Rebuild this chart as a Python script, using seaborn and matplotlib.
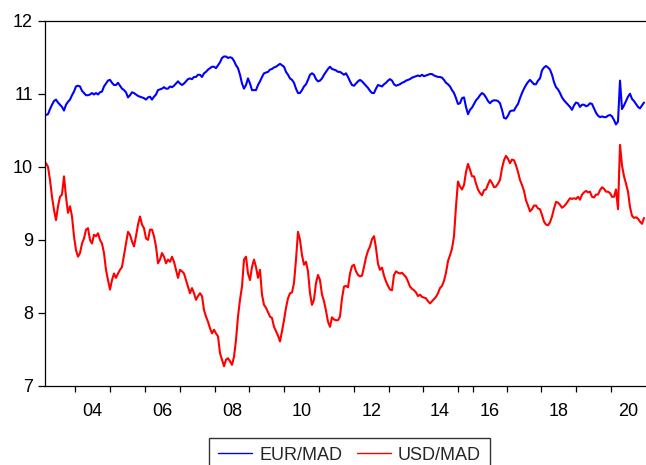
import numpy as np
import pandas as pd
import matplotlib
matplotlib.use("Agg")
import matplotlib.pyplot as plt
from matplotlib.lines import Line2D
import seaborn as sns

# Exchange rates of the Moroccan dirham, sampled at regular steps of the
# observation index (about three trading weeks per step).
eur_mad = [
    10.71, 10.72, 10.79, 10.85, 10.90, 10.92, 10.88, 10.85, 10.82, 10.77,
    10.85, 10.89, 10.92, 10.98, 11.03, 11.10, 11.11, 11.10, 11.04, 11.01,
    10.98, 10.98, 10.99, 11.01, 10.99, 11.01, 10.99, 11.02, 11.03, 11.10,
    11.14, 11.18, 11.19, 11.15, 11.12, 11.12, 11.15, 11.11, 11.07, 11.05,
    11.02, 10.95, 10.98, 11.02, 11.01, 10.99, 10.97, 10.96, 10.95, 10.94,
    10.92, 10.95, 10.96,
    10.92, 10.96, 10.99, 11.05, 11.06, 11.07, 11.09, 11.07, 11.07, 11.10,
    11.09, 11.11, 11.14, 11.17, 11.14, 11.12, 11.14, 11.17, 11.20, 11.21,
    11.20, 11.23, 11.23, 11.26, 11.26, 11.23, 11.28, 11.30, 11.33, 11.35,
    11.37, 11.37, 11.35, 11.39, 11.43, 11.49, 11.51, 11.51, 11.49, 11.50,
    11.49, 11.45, 11.39, 11.35, 11.26, 11.14, 11.07, 11.12, 11.21, 11.14,
    11.05, 11.05,
    11.05, 11.12, 11.17, 11.23, 11.28, 11.29, 11.30, 11.33, 11.34, 11.36,
    11.37, 11.39, 11.41, 11.39, 11.37, 11.30, 11.26, 11.21, 11.19, 11.15,
    11.07, 11.01, 11.01, 11.05, 11.10, 11.13, 11.19, 11.26, 11.28, 11.26,
    11.20, 11.17, 11.18, 11.21, 11.26, 11.30, 11.34, 11.37, 11.34, 11.33,
    11.32, 11.30, 11.30, 11.28, 11.26, 11.28, 11.23, 11.17, 11.12, 11.11,
    11.14, 11.17, 11.19,
    11.17, 11.14, 11.11, 11.08, 11.04, 11.01, 11.01, 11.07, 11.12, 11.11,
    11.10, 11.13, 11.15, 11.18, 11.20, 11.18, 11.13, 11.11, 11.12, 11.13,
    11.15, 11.16, 11.18, 11.19, 11.20, 11.22, 11.23, 11.24, 11.25, 11.24,
    11.26, 11.24, 11.25, 11.26, 11.27, 11.27, 11.25, 11.24, 11.23, 11.23,
    11.22, 11.19, 11.15, 11.13, 11.10, 11.05, 11.01, 10.94, 10.86, 10.87,
    10.94, 10.95,
    10.82, 10.72, 10.78, 10.81, 10.86, 10.91, 10.94, 10.98, 11.01, 10.99,
    10.95, 10.90, 10.87, 10.90, 10.91, 10.91, 10.90, 10.87, 10.78, 10.67,
    10.66, 10.70, 10.76, 10.77, 10.77, 10.82, 10.86, 10.94, 11.01, 11.07,
    11.12, 11.16, 11.19, 11.16, 11.13, 11.13, 11.18,
    11.21, 11.32, 11.36, 11.38, 11.36, 11.33, 11.26, 11.16, 11.09, 11.06,
    11.01, 10.95, 10.91, 10.88, 10.85, 10.82, 10.78, 10.84, 10.88, 10.87,
    10.82, 10.85, 10.85, 10.83, 10.84, 10.87, 10.86, 10.80, 10.74, 10.70,
    10.68, 10.69, 10.68, 10.68, 10.70, 10.71, 10.69, 10.64, 10.58, 10.62,
    11.18, 10.79, 10.84, 10.90, 10.96, 11.00, 10.93, 10.90, 10.86, 10.82,
    10.80, 10.84, 10.88,
]

usd_mad = [
    10.05, 10.00, 9.82, 9.59, 9.41, 9.27, 9.46, 9.59, 9.62, 9.87,
    9.59, 9.37, 9.46, 9.32, 9.05, 8.86, 8.77, 8.82, 8.95, 9.02,
    9.14, 9.16, 9.00, 8.95, 9.07, 9.05, 9.09, 9.00, 8.95, 8.82,
    8.59, 8.45, 8.32, 8.45, 8.54, 8.48, 8.54, 8.59, 8.63, 8.79,
    8.95, 9.11, 9.07, 8.98, 8.91, 9.05, 9.21, 9.32, 9.21, 9.16,
    9.02, 9.00, 9.14,
    9.14, 9.05, 8.91, 8.68, 8.73, 8.82, 8.77, 8.68, 8.73, 8.70,
    8.77, 8.70, 8.59, 8.48, 8.59, 8.57, 8.54, 8.45, 8.36, 8.27,
    8.34, 8.27, 8.18, 8.23, 8.27, 8.23, 8.04, 7.95, 7.88, 7.79,
    7.72, 7.77, 7.72, 7.68, 7.45, 7.36, 7.27, 7.36, 7.38, 7.34,
    7.29, 7.40, 7.63, 7.95, 8.18, 8.36, 8.73, 8.77, 8.54, 8.45,
    8.63, 8.73,
    8.63, 8.48, 8.59, 8.25, 8.11, 8.07, 8.01, 7.95, 7.93, 7.81,
    7.75, 7.69, 7.61, 7.75, 7.90, 8.07, 8.20, 8.27, 8.28, 8.41,
    8.73, 9.11, 9.00, 8.79, 8.66, 8.70, 8.57, 8.27, 8.11, 8.18,
    8.41, 8.52, 8.45, 8.25, 8.16, 8.03, 7.88, 7.81, 7.94, 7.91,
    7.90, 7.90, 7.95, 8.20, 8.36, 8.37, 8.35, 8.54, 8.64, 8.66,
    8.57, 8.52, 8.50,
    8.51, 8.63, 8.76, 8.85, 8.91, 9.01, 9.05, 8.89, 8.67, 8.59,
    8.62, 8.51, 8.43, 8.37, 8.32, 8.31, 8.52, 8.57, 8.55, 8.54,
    8.55, 8.52, 8.49, 8.43, 8.36, 8.33, 8.31, 8.28, 8.23, 8.25,
    8.22, 8.21, 8.20, 8.16, 8.13, 8.16, 8.19, 8.22, 8.27, 8.34,
    8.37, 8.44, 8.55, 8.71, 8.79, 8.88, 9.05, 9.46, 9.80, 9.73,
    9.69, 9.75,
    9.93, 10.04, 9.96, 9.87, 9.87, 9.77, 9.69, 9.64, 9.61, 9.68,
    9.69, 9.76, 9.82, 9.78, 9.72, 9.73, 9.77, 9.82, 9.98, 10.09,
    10.15, 10.11, 10.05, 10.10, 10.09, 10.02, 9.93, 9.82, 9.75, 9.67,
    9.54, 9.47, 9.39, 9.42, 9.47, 9.47, 9.43,
    9.42, 9.34, 9.25, 9.21, 9.20, 9.24, 9.32, 9.43, 9.52, 9.51,
    9.48, 9.44, 9.46, 9.49, 9.53, 9.57, 9.56, 9.57, 9.56, 9.59,
    9.55, 9.62, 9.65, 9.67, 9.65, 9.66, 9.59, 9.58, 9.62, 9.62,
    9.68, 9.72, 9.70, 9.66, 9.66, 9.64, 9.59, 9.59, 9.69, 9.42,
    10.30, 10.02, 9.87, 9.77, 9.66, 9.45, 9.33, 9.30, 9.31, 9.29,
    9.25, 9.22, 9.30,
]

series_names = ["EUR/MAD", "USD/MAD"]
series_colors = ["#0000ff", "#ff0000"]

# Observation index at which each calendar year starts (2015 is short in
# the sample, so its span on the index axis is narrow).
years = list(range(2004, 2021))
year_start_obs = [14.65, 32.15, 49.65, 67.1, 84.5, 101.5, 119.0, 136.5,
                  154.0, 171.5, 188.25, 205.75, 213.25, 230.5, 247.5,
                  265.0, 282.35]
labelled_years = [2004, 2006, 2008, 2010, 2012, 2014, 2016, 2018, 2020]
year_labels = ["04", "06", "08", "10", "12", "14", "16", "18", "20"]

n = len(eur_mad)
obs = np.arange(n)
df = pd.DataFrame({
    "obs": np.concatenate([obs, obs]),
    "rate": eur_mad + usd_mad,
    "pair": [series_names[0]] * n + [series_names[1]] * len(usd_mad),
})

sns.set_style("white")
plt.rcParams["font.family"] = ["Liberation Sans", "DejaVu Sans"]

W, H = 646, 465
fig = plt.figure(figsize=(W / 100, H / 100), dpi=100)
ax = fig.add_axes([45.5 / W, 1 - 386 / H, (W - 45.5) / W, (386 - 20.7) / H])

sns.lineplot(data=df, x="obs", y="rate", hue="pair", hue_order=series_names,
             palette=series_colors, estimator=None, linewidth=1.5,
             ax=ax, legend=False)

ax.set_xlim(-0.25, n)
ax.set_ylim(7, 12)
ax.set_xlabel("")
ax.set_ylabel("")

for side in ("left", "bottom", "top"):
    ax.spines[side].set_visible(True)
    ax.spines[side].set_color("black")
    ax.spines[side].set_linewidth(0.9)
ax.spines["right"].set_visible(False)

# y axis
ax.set_yticks([7, 8, 9, 10, 11, 12])
ax.set_yticklabels(["7", "8", "9", "10", "11", "12"])
ax.tick_params(axis="y", which="major", direction="out", length=5,
               width=0.9, color="black", labelsize=13, pad=4,
               labelcolor="black", left=True)

# x axis: tick marks at year starts, labels centred within the year
ax.set_xticks(year_start_obs)
ax.set_xticklabels([""] * len(year_start_obs))
bounds = year_start_obs + [n]
centres = []
for y in labelled_years:
    i = years.index(y)
    centres.append((bounds[i] + bounds[i + 1]) / 2)
ax.set_xticks(centres, minor=True)
ax.set_xticklabels(year_labels, minor=True)
ax.tick_params(axis="x", which="major", direction="out", length=4.5,
               width=0.9, color="black", bottom=True)
ax.tick_params(axis="x", which="minor", length=0, labelsize=13, pad=12,
               labelcolor="black", bottom=True)
ax.grid(False)

handles = [Line2D([], [], color=c, lw=1.0) for c in series_colors]
leg = fig.legend(handles, series_names, loc="upper center",
                 bbox_to_anchor=(349.35 / W, 1 - 437.7 / H), ncol=2,
                 frameon=True, fancybox=False, edgecolor="black",
                 fontsize=13, handlelength=1.9, handletextpad=0.37,
                 columnspacing=0.8, borderpad=0.5, borderaxespad=0)
leg.get_frame().set_linewidth(1.0)
leg.get_frame().set_facecolor("white")

fig.savefig("out.png", dpi=100)
